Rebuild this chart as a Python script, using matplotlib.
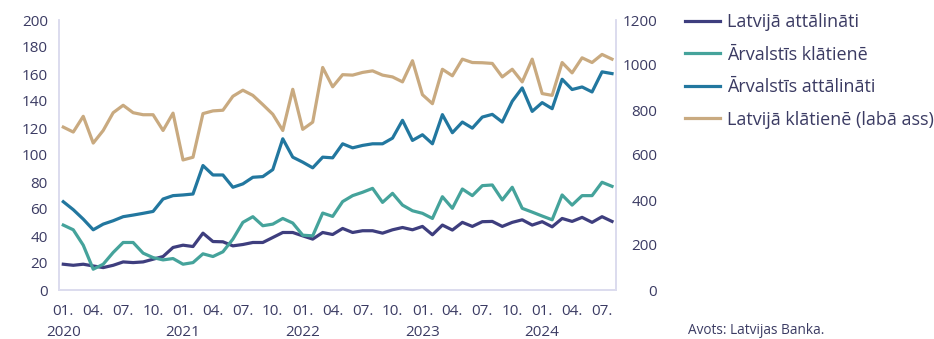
import matplotlib
matplotlib.use("Agg")
import matplotlib.pyplot as plt
import matplotlib.transforms as mtransforms
import numpy as np

plt.rcParams["font.family"] = ["Open Sans", "DejaVu Sans"]

TEXT = "#3b3b63"
SPINE = "#dcdcee"

# monthly, 2020-01 .. 2024-08
months = [f"{y}-{m:02d}" for y in range(2020, 2025) for m in range(1, 13)][:56]

latvija_attalinati = [
    19.1, 18.3, 19.1, 17.8, 16.6, 18.3, 20.8, 20.3, 20.8, 22.8, 24.8, 31.5,
    33.2, 32.2, 42.1, 35.9, 35.7, 32.7, 33.7, 35.2, 35.2, 38.9, 42.6, 42.6,
    40.1, 37.7, 42.6, 41.1, 45.6, 42.6, 43.9, 43.9, 42.1, 44.6, 46.3, 44.6,
    47.1, 40.9, 48.1, 44.4, 50.1, 47.1, 50.6, 50.8, 47.1, 50.1, 52.0, 48.1,
    50.6, 46.8, 53.0, 50.8, 53.8, 50.1, 54.3, 50.8,
]
arvalstis_klatiene = [
    48.1, 44.6, 33.2, 15.4, 19.1, 27.8, 35.2, 35.2, 27.3, 24.0, 22.3, 23.3,
    19.1, 20.3, 26.8, 24.8, 28.3, 37.7, 50.1, 54.3, 47.6, 48.8, 53.0, 49.6,
    40.6, 40.1, 57.0, 54.5, 65.5, 69.9, 72.4, 75.3, 64.9, 71.6, 62.9, 58.7,
    56.8, 53.0, 69.1, 60.5, 74.8, 69.9, 77.3, 77.8, 66.7, 76.1, 60.5, 57.7,
    54.8, 52.0, 70.4, 62.9, 69.9, 69.9, 79.8, 76.8,
]
arvalstis_attalinati = [
    65.4, 59.5, 52.5, 44.6, 48.8, 51.3, 54.3, 55.5, 56.8, 58.2, 67.4, 69.9,
    70.4, 71.1, 92.2, 85.2, 85.2, 76.1, 78.6, 83.5, 84.0, 89.2, 112.0, 98.4,
    94.7, 90.5, 98.4, 97.9, 108.3, 105.3, 107.1, 108.3, 108.3, 112.5, 125.7, 110.8,
    115.0, 108.3, 129.9, 116.5, 124.4, 119.9, 128.1, 130.1, 124.4, 139.8, 149.7, 132.3,
    138.8, 134.3, 156.1, 148.5, 150.4, 146.7, 161.6, 160.3,
]
# right axis
latvija_klatiene = [
    724, 702, 772, 653, 709, 788, 821, 788, 779, 779, 709, 786,
    578, 590, 784, 796, 799, 861, 888, 865, 824, 781, 709, 892,
    714, 746, 989, 903, 957, 955, 967, 974, 955, 947, 925, 1019,
    868, 828, 981, 952, 1026, 1011, 1010, 1007, 947, 981, 925, 1026,
    873, 865, 1011, 965, 1032, 1011, 1047, 1026,
]

tick_pos = list(range(0, 56, 3))
tick_labels = [months[i].split("-")[1] + "." for i in tick_pos]
year_pos = [i for i in tick_pos if months[i].endswith("-01")]
year_labels = [months[i][:4] for i in year_pos]

fig = plt.figure(figsize=(9.34, 3.39), dpi=100)
ax = fig.add_axes([59 / 934, 1 - 290 / 339, (615.5 - 59) / 934, 270 / 339])
ax2 = ax.twinx()

x = np.arange(len(months))
lw = 2.3
l1, = ax.plot(x, latvija_attalinati, color="#3e3e7e", lw=lw, label="Latvijā attālināti")
l2, = ax.plot(x, arvalstis_klatiene, color="#45a39b", lw=lw, label="Ārvalstīs klātienē")
l3, = ax.plot(x, arvalstis_attalinati, color="#22779f", lw=lw, label="Ārvalstīs attālināti")
l4, = ax2.plot(x, latvija_klatiene, color="#c9aa80", lw=lw, label="Latvijā klātienē (labā ass)")

ax.set_xlim(-0.43, 55.35)
ax.set_ylim(0, 200)
ax.set_yticks(range(0, 201, 20))
ax2.set_ylim(0, 1200)
ax2.set_yticks(range(0, 1201, 200))
ax.set_xticks(tick_pos)
ax.set_xticklabels(tick_labels)

# year under each January
trans = mtransforms.blended_transform_factory(ax.transData, ax.transAxes)
for xp, yl in zip(year_pos, year_labels):
    ax.text(xp, -42.5 / 270, yl, transform=trans, ha="center", va="center",
            fontsize=11, color=TEXT)

for a in (ax, ax2):
    for s in a.spines.values():
        s.set_color(SPINE)
        s.set_linewidth(1.2)
    a.spines["top"].set_visible(False)

ax.tick_params(axis="both", length=0, labelsize=11, colors=TEXT)
ax.tick_params(axis="y", pad=8)
ax.tick_params(axis="x", pad=10)
ax2.tick_params(axis="y", length=0, labelsize=11, colors=TEXT, pad=30)
for lab in ax2.get_yticklabels():
    lab.set_ha("right")

fig.legend(
    handles=[l1, l2, l3, l4],
    loc="upper left",
    bbox_to_anchor=(678 / 934, 1 - 6 / 339),
    borderaxespad=0,
    frameon=False,
    fontsize=13,
    handlelength=1.9,
    handletextpad=0.4,
    labelspacing=0.8,
    labelcolor=TEXT,
)

fig.text(688 / 934, 1 - 331 / 339, "Avots: Latvijas Banka.", fontsize=9.8, color=TEXT,
         va="center", ha="left")

fig.savefig("out.png", dpi=100)
